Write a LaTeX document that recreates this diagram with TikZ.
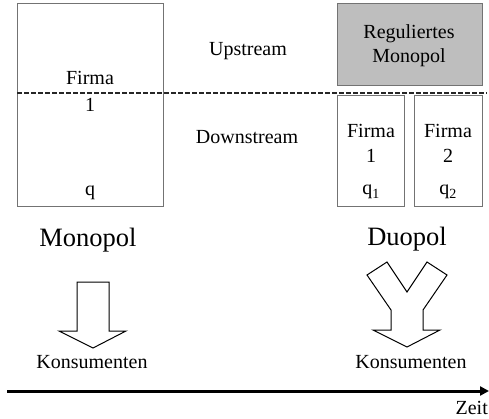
\documentclass[tikz,border=0pt]{standalone}
\usepackage{fontspec}
\setmainfont{Liberation Serif}
\usetikzlibrary{arrows.meta}
\definecolor{boxline}{RGB}{115,115,115}
\definecolor{boxfill}{RGB}{190,190,190}
\tikzset{
  box/.style={draw=boxline, line width=1pt},
  lbl/.style={anchor=base, inner sep=0pt, font=\fontsize{20}{22}\selectfont},
  big/.style={anchor=base, inner sep=0pt, font=\fontsize{26.5}{28}\selectfont},
  bigarrow/.style={draw=black, line width=1pt, fill=white, line join=miter},
}
\begin{document}
\begin{tikzpicture}[x=1pt, y=-1pt]
\useasboundingbox (0,0) rectangle (489,419);
% boxes
\draw[box] (17,4) rectangle (163,207);
\draw[box, fill=boxfill] (337,4) rectangle (482,86);
\draw[box] (337,96) rectangle (404,207);
\draw[box] (414,96) rectangle (482,207);
% dashed separator
\coordinate (dl) at (17,93);
\coordinate (dr) at (487,93);
\draw[line width=1.8pt, dash pattern=on 4.5pt off 2.5pt, black!85] (dl) -- (dr);
% left box text
\node[lbl] (f0) at (90,85) {Firma};
\node[lbl] (n0) at (90,112) {1};
\node[lbl] (q0) at (90,196) {q};
% middle labels
\node[lbl] (up) at (248,56) {Upstream};
\node[lbl] (down) at (247,144) {Downstream};
% regulated monopoly
\node[lbl] (reg1) at (409,39) {Reguliertes};
\node[lbl] (reg2) at (409,63) {Monopol};
% firms
\node[lbl] (f1) at (371,138) {Firma};
\node[lbl] (n1) at (371,163) {1};
\node[lbl] (q1) at (371,195) {q\textsubscript{1}};
\node[lbl] (f2) at (448,138) {Firma};
\node[lbl] (n2) at (448,163) {2};
\node[lbl] (q2) at (448,195) {q\textsubscript{2}};
% big labels
\node[big] (mono) at (88,247) {Monopol};
\node[big] (duo) at (407,246) {Duopol};
% arrows
\draw[bigarrow] (77,282) -- (109,282) -- (109,331) -- (126,331) -- (93,348)
  -- (59,331) -- (77,331) -- cycle;
\draw[bigarrow] (367,275) -- (387,262) -- (407,292) -- (427,262) -- (447,275)
  -- (423,310) -- (423,330) -- (440,330) -- (407,347) -- (373,330)
  -- (391,330) -- (391,310) -- cycle;
% consumers
\node[lbl] (k1) at (92,368) {Konsumenten};
\node[lbl] (k2) at (411,368) {Konsumenten};
% time axis
\coordinate (ax0) at (7,391);
\coordinate (ax1) at (489,391);
\draw[line width=3pt, -{Triangle[length=9pt, width=9pt]}] (ax0) -- (ax1);
\node[lbl, anchor=base east] (zeit) at (488,414) {Zeit};
\end{tikzpicture}
\end{document}
